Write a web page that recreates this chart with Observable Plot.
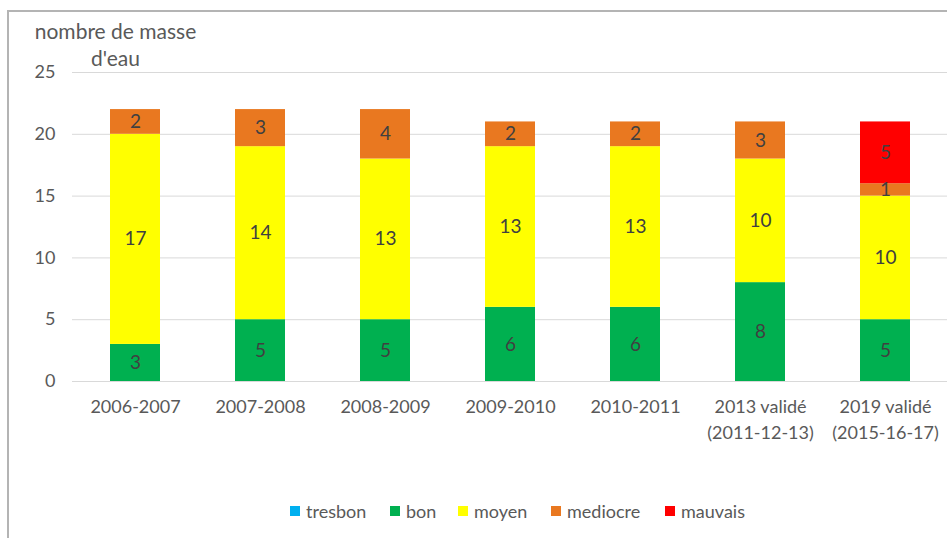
<!DOCTYPE html>
<html>
<head>
<meta charset="utf-8">
<script src="https://cdn.jsdelivr.net/npm/d3@7"></script>
<script src="https://cdn.jsdelivr.net/npm/@observablehq/plot@0.6"></script>
<style>
  html, body { margin: 0; padding: 0; background: #fff; }
  body { width: 947px; height: 538px; overflow: hidden; position: relative; font-family: Lato, "Open Sans", sans-serif; }
  #frame { position: absolute; left: 7px; top: 10px; width: 945px; height: 540px; border-left: 2px solid #b4b4b4; border-top: 2px solid #b4b4b4; box-sizing: border-box; pointer-events: none; }
  #chart { position: absolute; left: 0; top: 0; }
  #legend { position: absolute; left: 0; top: 490px; width: 947px; height: 48px; }
  .item { position: absolute; top: 10px; display: flex; align-items: center; font-size: 18px; color: #595959; }
  .sw { width: 10px; height: 10px; margin-right: 6px; }
</style>
</head>
<body>
<div id="chart"></div>
<div id="legend"></div>
<div id="frame"></div>
<script>
const categories = ["2006-2007", "2007-2008", "2008-2009", "2009-2010", "2010-2011", "2013 validé\n(2011-12-13)", "2019 validé\n(2015-16-17)"];
const seriesNames = ["tresbon", "bon", "moyen", "mediocre", "mauvais"];
const seriesColors = ["#00B0F0", "#00B050", "#FFFF00", "#E97820", "#FF0000"];
const tresbon  = [0, 0, 0, 0, 0, 0, 0];
const bon      = [3, 5, 5, 6, 6, 8, 5];
const moyen    = [17, 14, 13, 13, 13, 10, 10];
const mediocre = [2, 3, 4, 2, 2, 3, 1];
const mauvais  = [0, 0, 0, 0, 0, 0, 5];
const yTicks = [0, 5, 10, 15, 20, 25];
const yLabel = "nombre de masse\nd'eau";

const seriesValues = [tresbon, bon, moyen, mediocre, mauvais];
const rows = [];
seriesNames.forEach((s, si) => {
  categories.forEach((c, ci) => rows.push({category: c, series: s, value: seriesValues[si][ci]}));
});

const plot = Plot.plot({
  width: 947,
  height: 490,
  marginLeft: 72,
  marginRight: 0,
  marginTop: 72,
  marginBottom: 109,
  style: {fontFamily: "Lato, 'Open Sans', sans-serif", fontSize: "18px", color: "#595959", background: "transparent"},
  x: {domain: categories, paddingInner: 0.6, paddingOuter: 0.3, label: null, tickSize: 0, tickPadding: 19},
  y: {domain: [0, 25], ticks: yTicks, label: null, tickSize: 0, tickPadding: 17},
  color: {domain: seriesNames, range: seriesColors},
  marks: [
    Plot.gridY(yTicks, {stroke: "#d9d9d9", strokeOpacity: 1, strokeWidth: 1}),
    Plot.axisY({ticks: yTicks, tickSize: 0, tickPadding: 17, fill: "#595959", fontSize: 18}),
    Plot.axisX({tickSize: 0, tickPadding: 14, fill: "#595959", fontSize: 18, lineHeight: 1.4}),
    Plot.barY(rows, {x: "category", y: "value", fill: "series", order: seriesNames}),
    Plot.text(rows, Plot.stackY({x: "category", y: "value", z: "series", order: seriesNames, text: d => d.value > 0 ? String(d.value) : "", fill: "#404040", fontSize: 19})),
    Plot.text([yLabel], {frameAnchor: "top-left", dx: 43, dy: -29, text: d => d, textAnchor: "middle", lineAnchor: "middle", lineHeight: 1.3, fill: "#595959", fontSize: 21})
  ]
});
document.getElementById("chart").appendChild(plot);

const legend = document.getElementById("legend");
const legendX = [290, 390, 458, 551, 665];
seriesNames.forEach((s, i) => {
  const item = document.createElement("div");
  item.className = "item";
  item.style.left = legendX[i] + "px";
  const sw = document.createElement("div");
  sw.className = "sw";
  sw.style.background = seriesColors[i];
  const t = document.createElement("span");
  t.textContent = s;
  item.appendChild(sw);
  item.appendChild(t);
  legend.appendChild(item);
});
</script>
</body>
</html>
